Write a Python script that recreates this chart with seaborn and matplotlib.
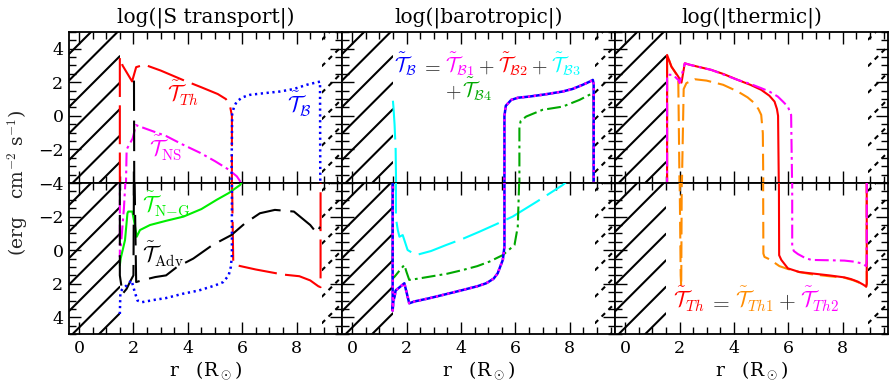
import numpy as np
import matplotlib
matplotlib.use("Agg")
import matplotlib.pyplot as plt
import seaborn as sns
from matplotlib.patches import Rectangle
from matplotlib.ticker import MultipleLocator, FixedLocator, FixedFormatter

sns.set_theme(style="ticks")
plt.rcParams["font.family"] = ["DejaVu Serif"]
plt.rcParams["mathtext.fontset"] = "cm"
plt.rcParams["lines.scale_dashes"] = False
plt.rcParams["axes.linewidth"] = 1.3

nan = np.nan

# ---- panel 1 : S transport  (top = positive part, bottom = negative part, log|.|)
th_top_r = [1.5, 1.5, 1.6, 1.95, 2.1, 2.4, 3.0, 3.8, 4.5, 5.1, 5.4, 5.55, 5.62, 5.62]
th_top_y = [-4.5, 3.5, 3.0, 2.05, 2.9, 3.05, 2.7, 2.15, 1.7, 1.3, 1.0, 0.6, 0.0, -4.5]
th_bot_r = [5.62, 5.67, 5.8, 6.5, 7.5, 8.1, 8.5, 8.8, 8.88, 8.88]
th_bot_y = [-4.5, 0.75, 0.9, 1.15, 1.45, 1.55, 1.8, 2.15, 2.2, -4.5]

ns_top_r = [1.72, 1.75, 1.85, 1.97, 2.09, 2.6, 3.2, 3.8, 4.45, 5.0, 5.5, 5.8, 6.05]
ns_top_y = [-4.5, -2.0, -1.7, -1.35, -0.55, -0.85, -1.2, -1.7, -2.2, -2.7, -3.2, -3.6, -4.2]
ns_bot_r = [1.5, 1.5, 1.55, 1.65, 1.72]
ns_bot_y = [-4.5, 0.4, -0.5, -2.5, -4.5]

ng_bot_r = [1.5, 1.53, 1.69, 1.78, 1.81, 1.96, 2.05, 2.12, 2.24, 2.61, 3.2, 3.84, 4.5, 5.06, 5.5, 5.92, 6.0]
ng_bot_y = [0.9, 0.5, -0.6, -2.2, -2.3, -2.3, -1.5, -0.8, -1.2, -1.5, -1.75, -2.0, -2.45, -3.0, -3.4, -3.88, -4.1]

adv_top_r = [2.03, 2.02]
adv_top_y = [-4.5, 2.1]
adv_bot_r = [1.5, 1.5, 1.6, 1.75, 1.9, 2.0, 2.02, nan,
             2.04, 2.1, 2.3, 2.8, 3.2, 3.6, 4.2, 4.9, 5.6, 6.1, 6.65, 7.2, 7.9, 8.5, 8.75, 8.86]
adv_bot_y = [-4.5, 1.5, 2.6, 2.3, 1.8, 1.5, -4.5, nan,
             -4.5, 1.9, 1.8, 1.6, 1.5, 1.0, 0.5, -0.3, -0.9, -1.6, -2.2, -2.4, -2.3, -1.5, -1.0, -1.4]

b_top_r = [5.6, 5.63, 5.7, 5.8, 6.0, 6.28, 6.8, 7.39, 7.9, 8.37, 8.7, 8.86, 8.87]
b_top_y = [-4.5, 0.1, 0.55, 0.85, 1.1, 1.25, 1.35, 1.45, 1.6, 1.85, 1.98, 2.04, -4.5]
b_bot_r = [1.5, 1.52, 1.6, 1.75, 1.93, 2.05, 2.15, 2.3, 2.8, 3.2, 3.8, 4.4, 5.0, 5.3, 5.5, 5.58, 5.62, 5.62]
b_bot_y = [3.8, 2.5, 2.3, 2.1, 1.8, 2.5, 3.0, 3.1, 2.95, 2.85, 2.6, 2.4, 2.1, 1.9, 1.5, 1.0, 0.3, -4.5]

# ---- panel 2 : barotropic
bb_top_r = [5.6, 5.6, 5.65, 5.85, 6.1, 6.52, 7.1, 7.74, 8.1, 8.48, 8.75, 8.85, 8.88, 8.88]
bb_top_y = [-4.5, 0.0, 0.6, 0.95, 1.08, 1.15, 1.28, 1.45, 1.6, 1.85, 2.05, 2.14, 1.9, -4.5]
bb_bot_r = [1.49, 1.49, 1.52, 1.56, 1.6, 1.75, 1.92, 2.0, 2.1, 2.3, 2.84, 3.5, 4.07, 4.6, 4.93, 5.2, 5.35, 5.54, 5.6, 5.6]
bb_bot_y = [-4.5, 3.6, 3.0, 2.77, 2.4, 2.2, 1.97, 2.5, 3.16, 3.05, 2.86, 2.6, 2.37, 2.15, 1.97, 1.7, 1.38, 0.58, -0.2, -4.5]
b1_top_r, b1_top_y = bb_top_r, bb_top_y
b1_bot_r, b1_bot_y = bb_bot_r, bb_bot_y

b3_top_r = [1.5, 1.52, 1.56, 1.6, 1.62]
b3_top_y = [0.9, 0.5, -0.5, -2.0, -4.5]
b3_bot_r = [1.61, 1.61, 1.68, 1.74, 1.86, 2.04, 2.35, 2.9, 3.46, 4.1, 4.68, 5.3, 5.9, 6.8, 7.74, 7.9]
b3_bot_y = [-4.5, -1.9, -1.2, -0.8, -0.9, -0.01, 0.29, 0.05, -0.31, -0.7, -1.1, -1.55, -2.0, -2.9, -3.88, -4.1]

b4_top_r = [6.15, 6.15, 6.2, 6.4, 7.0, 7.74, 8.36, 8.72, 8.85, 8.88, 8.88]
b4_top_y = [-4.5, -0.64, -0.3, -0.04, 0.36, 0.55, 0.95, 1.25, 1.3, 1.0, -4.5]
b4_bot_r = [1.49, 1.49, 1.56, 1.75, 1.92, 2.0, 2.1, 2.4, 2.84, 3.5, 4.07, 4.6, 5.05, 5.54, 5.97, 6.09, 6.15]
b4_bot_y = [-4.5, 1.68, 1.58, 1.2, 0.88, 1.3, 1.77, 1.7, 1.58, 1.4, 1.18, 0.95, 0.68, 0.29, -0.31, -1.4, -4.5]

# ---- panel 3 : thermic
tt_top_r = [1.54, 1.54, 1.7, 1.95, 2.07, 2.19, 2.38, 3.16, 3.6, 4.14, 4.6, 5.0, 5.3, 5.49, 5.58, 5.62, 5.65]
tt_top_y = [-4.5, 3.63, 2.93, 2.34, 1.98, 3.13, 3.04, 2.74, 2.5, 2.14, 1.85, 1.55, 1.2, 0.85, 0.4, 0.0, -4.5]
tt_bot_r = [5.65, 5.66, 5.74, 5.98, 6.4, 6.84, 7.5, 8.06, 8.3, 8.55, 8.75, 8.86, 8.88, 8.88]
tt_bot_y = [-4.5, 0.3, 0.58, 1.08, 1.3, 1.38, 1.5, 1.62, 1.72, 1.87, 2.05, 2.17, 2.0, -4.5]

t1_top_r = [1.54, 1.54, 1.7, 1.95, 2.0, nan, 2.08, 2.15, 2.25, 2.56, 2.99, 3.6, 4.14, 4.5, 4.75, 4.9, 5.0, 5.06, 5.08]
t1_top_y = [-4.5, 3.63, 2.93, 2.3, -4.5, nan, -4.5, 1.6, 1.95, 2.18, 2.1, 1.85, 1.45, 1.1, 0.76, 0.4, 0.06, -1.03, -4.5]
t1_bot_r = [2.0, 2.04, 2.06, 2.08, nan, 5.07, 5.08, 5.12, 5.25, 5.45, 5.67, 5.98, 6.4, 6.84, 7.5, 8.06, 8.4, 8.7, 8.86, 8.88, 8.88]
t1_bot_y = [-4.5, 1.5, 2.2, -4.5, nan, -4.5, 0.2, 0.4, 0.5, 0.7, 0.95, 1.12, 1.3, 1.43, 1.55, 1.64, 1.8, 2.0, 2.17, 2.0, -4.5]

t2_top_r = [1.54, 1.54, 1.58, 1.76, 1.95, 2.0, 2.19, 2.38, 3.16, 4.14, 4.6, 5.0, 5.3, 5.61, 5.8, 5.98, 6.1, 6.14]
t2_top_y = [-4.5, 2.44, 2.45, 2.44, 2.14, 1.95, 3.13, 3.04, 2.74, 2.14, 1.9, 1.65, 1.45, 1.15, 0.85, 0.55, 0.06, -4.5]
t2_bot_r = [6.14, 6.14, 6.2, 6.35, 6.6, 6.84, 7.5, 8.06, 8.4, 8.68, 8.86, 8.88, 8.88]
t2_bot_y = [-4.5, -0.21, 0.05, 0.23, 0.45, 0.58, 0.6, 0.62, 0.68, 0.78, 0.94, 0.6, -4.5]

titles = ["log(|S transport|)", "log(|barotropic|)", "log(|thermic|)"]
r_in, r_out = 1.5, 8.92
xlim = (-0.37, 9.67)
ylim = (-4, 5)

RED, MAG, BLUE, GRN, CYAN, ORG, DGRN = "#ff0000", "#ff00ff", "#0000ff", "#00ee00", "#00ffff", "#ff8c00", "#00a800"
LDASH = (0, (28, 6))
ADASH = (0, (22, 7))
DASHDOT = (0, (10, 3, 2, 3))
DOT = (0, (1.6, 2.6))
ODASH = (0, (12, 5))
LABEL = 15.5
HATCH_STEP = 26.5   # vertical distance between hatch lines (px), measured on the original
HATCH_PHASE = 23.0

W_PX, H_PX = 890, 389
fig, axes = plt.subplots(2, 3, figsize=(W_PX / 100, H_PX / 100), dpi=100)
fig.subplots_adjust(left=0.0775, right=0.998, top=0.918, bottom=0.141, wspace=0, hspace=0)


def draw(ax, r, y, color, ls="-", lw=1.5, z=3):
    r = np.asarray(r, float)
    y = np.asarray(y, float)
    cut = np.flatnonzero(np.isnan(r))
    for rr, yy in zip(np.split(r, cut), np.split(y, cut)):
        ok = ~np.isnan(rr)
        sns.lineplot(x=rr[ok], y=yy[ok], ax=ax, color=color, linestyle=ls, linewidth=lw,
                     sort=False, estimator=None, errorbar=None, zorder=z)


def hatch(ax, a, b, ls="-"):
    pos = ax.get_position()
    w, h = pos.width * W_PX, pos.height * H_PX
    clip = Rectangle((a, 0), b - a, 1, transform=ax.transAxes)
    start = HATCH_PHASE - HATCH_STEP * np.ceil(w / HATCH_STEP)
    for c in np.arange(start, h + w, HATCH_STEP):
        xs = np.array([a * w, b * w])
        ys = xs + c
        line, = ax.plot(xs / w, ys / h, transform=ax.transAxes, color="black", lw=1.5, ls=ls, zorder=1)
        line.set_clip_path(clip)


def chain(ax, x0, y0, pieces, size=LABEL, gap=2.5):
    t = ax.text(x0, y0, pieces[0][0], color=pieces[0][1], fontsize=size, va="baseline", ha="left")
    for s, c in pieces[1:]:
        t = ax.annotate(s, xy=(1, y0), xycoords=(t, "data"), xytext=(gap, 0), textcoords="offset points",
                        color=c, fontsize=size, va="baseline", ha="left")


# panel 1
ax, bx = axes[0, 0], axes[1, 0]
draw(ax, th_top_r, th_top_y, RED, LDASH)
draw(bx, th_bot_r, th_bot_y, RED, LDASH)
draw(ax, ns_top_r, ns_top_y, MAG, DASHDOT)
draw(bx, ns_bot_r, ns_bot_y, MAG, DASHDOT)
draw(bx, ng_bot_r, ng_bot_y, GRN)
draw(ax, adv_top_r, adv_top_y, "black", ADASH)
draw(bx, adv_bot_r, adv_bot_y, "black", ADASH)
draw(ax, b_top_r, b_top_y, BLUE, DOT, lw=1.8)
draw(bx, b_bot_r, b_bot_y, BLUE, DOT, lw=1.8)
ax.text(3.8, 1.35, r"$\tilde{\mathcal{T}}_{Th}$", color=RED, fontsize=LABEL, ha="center", va="center")
ax.text(3.2, -1.95, r"$\tilde{\mathcal{T}}_{\rm NS}$", color=MAG, fontsize=LABEL, ha="center", va="center")
ax.text(8.1, 0.7, r"$\tilde{\mathcal{T}}_{\mathcal{B}}$", color=BLUE, fontsize=LABEL, ha="center", va="center")
bx.text(3.2, -2.7, r"$\tilde{\mathcal{T}}_{\rm N{-}G}$", color=GRN, fontsize=LABEL, ha="center", va="center")
bx.text(3.1, 0.25, r"$\tilde{\mathcal{T}}_{\rm Adv}$", color="black", fontsize=LABEL, ha="center", va="center")

# panel 2
ax, bx = axes[0, 1], axes[1, 1]
draw(ax, b3_top_r, b3_top_y, CYAN, LDASH)
draw(bx, b3_bot_r, b3_bot_y, CYAN, LDASH)
draw(ax, b4_top_r, b4_top_y, DGRN, DASHDOT)
draw(bx, b4_bot_r, b4_bot_y, DGRN, DASHDOT)
draw(ax, bb_top_r, bb_top_y, BLUE, lw=1.8)
draw(bx, bb_bot_r, bb_bot_y, BLUE, lw=1.8)
draw(ax, b1_top_r, b1_top_y, MAG, DOT, lw=1.8, z=4)
draw(bx, b1_bot_r, b1_bot_y, MAG, DOT, lw=1.8, z=4)

OP = "#333333"
chain(ax, 1.55, 2.6, [(r"$\tilde{\mathcal{T}}_{\mathcal{B}}$", BLUE), (r"$=$", OP),
                      (r"$\tilde{\mathcal{T}}_{\mathcal{B}1}$", MAG), (r"$+$", OP),
                      (r"$\tilde{\mathcal{T}}_{\mathcal{B}2}$", RED), (r"$+$", OP),
                      (r"$\tilde{\mathcal{T}}_{\mathcal{B}3}$", CYAN)], size=14.5, gap=2.6)
chain(ax, 3.4, 1.1, [(r"$+$", OP), (r"$\tilde{\mathcal{T}}_{\mathcal{B}4}$", DGRN)], size=14.5, gap=0.5)

# panel 3
ax, bx = axes[0, 2], axes[1, 2]
draw(ax, t1_top_r, t1_top_y, ORG, ODASH)
draw(bx, t1_bot_r, t1_bot_y, ORG, ODASH)
draw(ax, tt_top_r, tt_top_y, RED)
draw(bx, tt_bot_r, tt_bot_y, RED)
draw(ax, t2_top_r, t2_top_y, MAG, DASHDOT)
draw(bx, t2_bot_r, t2_bot_y, MAG, DASHDOT)
chain(bx, 1.75, 3.45, [(r"$\tilde{\mathcal{T}}_{Th}$", RED), (r"$=$", OP),
                       (r"$\tilde{\mathcal{T}}_{Th1}$", ORG), (r"$+$", OP),
                       (r"$\tilde{\mathcal{T}}_{Th2}$", MAG)], size=15.5, gap=3.2)

for j in range(3):
    for i in range(2):
        a = axes[i, j]
        a.set_xlim(*xlim)
        if i == 0:
            a.set_ylim(*ylim)
        else:
            a.set_ylim(ylim[1], ylim[0])
        a.xaxis.set_major_locator(MultipleLocator(2))
        a.xaxis.set_minor_locator(MultipleLocator(0.5))
        a.yaxis.set_major_locator(FixedLocator([-4, -2, 0, 2, 4]))
        a.yaxis.set_minor_locator(MultipleLocator(0.5))
        a.tick_params(which="both", direction="in", top=True, right=True, color="black", width=1.0,
                      labelsize=12.5, labelcolor="black", pad=4)
        a.tick_params(which="major", length=8.5)
        a.tick_params(which="minor", length=5)
        for s in a.spines.values():
            s.set_color("black")
        if i == 0:
            a.tick_params(labelbottom=False)
            a.set_title(titles[j], fontsize=14.5, pad=6, color="black")
        else:
            a.set_xlabel(r"r   (R$_\odot$)", fontsize=13.5, color="black", labelpad=2)
        if j > 0:
            a.tick_params(labelleft=False)
        elif i == 1:
            a.yaxis.set_major_formatter(FixedFormatter(["", "\u22122", "0", "2", "4"]))
        hatch(a, 0, (r_in - xlim[0]) / (xlim[1] - xlim[0]))
        hatch(a, (r_out - xlim[0]) / (xlim[1] - xlim[0]), 1, ls=(0, (3.5, 3.5)))

fig.text(0.02, 0.53, r"(erg   cm$^{-2}$ s$^{-1}$)", rotation=90, va="center", ha="center", fontsize=13.5)

fig.savefig("out.png", dpi=100)
